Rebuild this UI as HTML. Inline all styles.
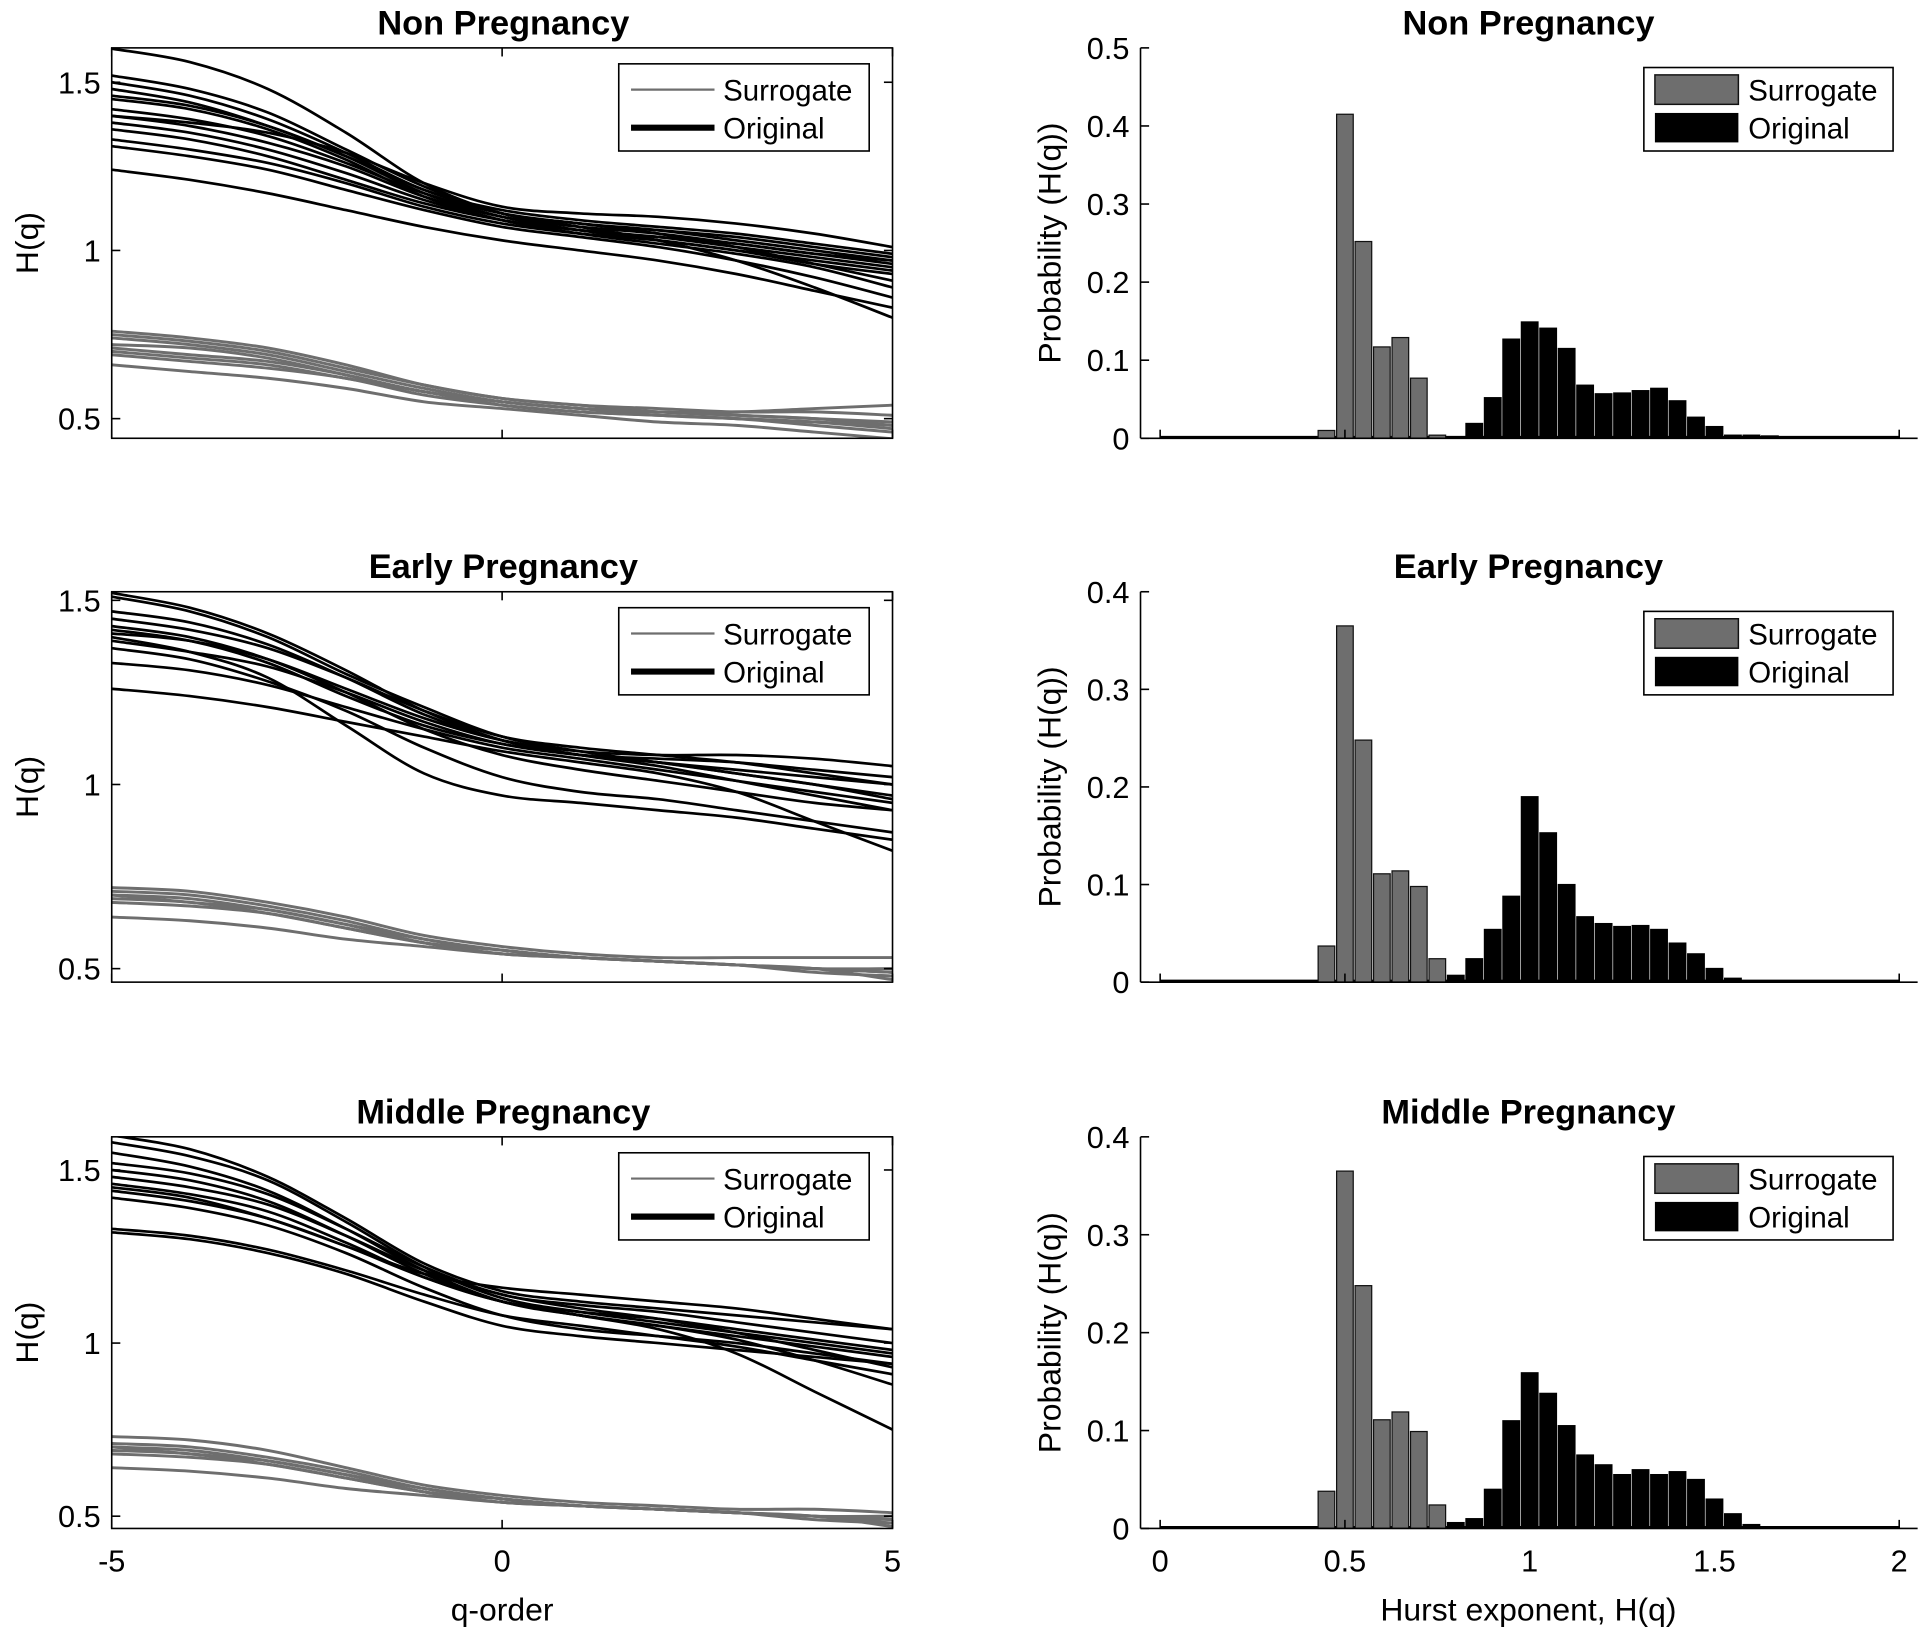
<!DOCTYPE html>
<html><head><meta charset="utf-8"><style>
html,body{margin:0;padding:0;background:#fff;}
svg{display:block;font-family:"Liberation Sans",sans-serif;}
</style></head><body>
<svg id="fig" width="1925" height="1636" viewBox="0 0 1568 1332.6" xmlns="http://www.w3.org/2000/svg"></svg>
<script>
const qTicks=[-5,0,5];
const qPoints=[-5,-4,-3,-2,-1,0,1,2,3,4,5];
const titles=["Non Pregnancy","Early Pregnancy","Middle Pregnancy"];
const orig1=[
[1.60,1.56,1.48,1.35,1.20,1.11,1.07,1.03,0.97,0.89,0.80],
[1.52,1.48,1.41,1.30,1.19,1.11,1.08,1.05,1.01,0.96,0.91],
[1.50,1.46,1.39,1.29,1.18,1.12,1.09,1.07,1.05,1.02,0.99],
[1.48,1.44,1.37,1.28,1.18,1.11,1.08,1.06,1.03,1.00,0.97],
[1.46,1.43,1.37,1.28,1.17,1.10,1.06,1.03,1.00,0.96,0.93],
[1.42,1.39,1.34,1.26,1.17,1.11,1.08,1.06,1.04,1.01,0.98],
[1.40,1.37,1.32,1.25,1.16,1.10,1.07,1.05,1.02,0.99,0.96],
[1.38,1.35,1.30,1.23,1.15,1.09,1.06,1.04,1.01,0.98,0.95],
[1.36,1.33,1.28,1.21,1.14,1.09,1.06,1.04,1.02,0.99,0.97],
[1.33,1.30,1.26,1.20,1.13,1.08,1.05,1.03,1.00,0.97,0.94],
[1.31,1.28,1.24,1.18,1.12,1.07,1.04,1.01,0.97,0.92,0.86],
[1.24,1.21,1.17,1.12,1.07,1.03,1.00,0.97,0.93,0.88,0.83],
[1.40,1.38,1.35,1.29,1.20,1.13,1.11,1.10,1.08,1.05,1.01],
[1.45,1.42,1.36,1.27,1.16,1.09,1.05,1.02,0.99,0.95,0.89]];
const surr1=[
[0.76,0.74,0.71,0.66,0.60,0.56,0.54,0.53,0.52,0.52,0.51],
[0.75,0.73,0.70,0.65,0.60,0.56,0.54,0.52,0.51,0.50,0.49],
[0.74,0.72,0.69,0.64,0.59,0.55,0.53,0.52,0.51,0.50,0.48],
[0.72,0.71,0.68,0.63,0.58,0.55,0.53,0.52,0.52,0.53,0.54],
[0.71,0.69,0.67,0.63,0.58,0.55,0.53,0.51,0.50,0.49,0.47],
[0.70,0.68,0.66,0.62,0.58,0.54,0.52,0.51,0.50,0.48,0.46],
[0.69,0.67,0.65,0.62,0.57,0.54,0.52,0.51,0.50,0.49,0.48],
[0.66,0.64,0.62,0.59,0.55,0.53,0.51,0.49,0.48,0.46,0.44]];
const orig2=[
[1.52,1.48,1.41,1.31,1.20,1.12,1.08,1.05,1.01,0.97,0.93],
[1.51,1.47,1.40,1.30,1.21,1.13,1.09,1.06,1.03,1.00,0.96],
[1.47,1.44,1.38,1.29,1.19,1.12,1.08,1.06,1.03,1.00,0.97],
[1.45,1.42,1.37,1.29,1.20,1.13,1.10,1.08,1.06,1.03,1.00],
[1.43,1.40,1.34,1.25,1.15,1.08,1.04,1.01,0.98,0.95,0.93],
[1.41,1.39,1.34,1.26,1.18,1.12,1.09,1.08,1.08,1.07,1.05],
[1.39,1.36,1.32,1.25,1.17,1.11,1.08,1.06,1.04,1.02,1.00],
[1.37,1.34,1.28,1.20,1.10,1.02,0.98,0.96,0.93,0.90,0.87],
[1.40,1.36,1.29,1.16,1.03,0.97,0.95,0.93,0.91,0.88,0.85],
[1.33,1.31,1.27,1.21,1.15,1.10,1.07,1.04,1.01,0.98,0.95],
[1.26,1.24,1.21,1.17,1.13,1.09,1.06,1.03,0.98,0.90,0.82],
[1.42,1.39,1.33,1.24,1.16,1.11,1.08,1.07,1.06,1.04,1.02]];
const surr2=[
[0.72,0.71,0.68,0.64,0.59,0.56,0.54,0.53,0.53,0.53,0.53],
[0.71,0.70,0.67,0.63,0.58,0.55,0.53,0.52,0.51,0.50,0.49],
[0.70,0.69,0.66,0.62,0.58,0.55,0.53,0.52,0.51,0.50,0.49],
[0.70,0.68,0.66,0.62,0.57,0.54,0.53,0.52,0.51,0.49,0.48],
[0.69,0.68,0.65,0.61,0.57,0.54,0.53,0.52,0.51,0.50,0.50],
[0.68,0.67,0.65,0.61,0.57,0.55,0.53,0.52,0.51,0.50,0.47],
[0.64,0.63,0.61,0.58,0.56,0.54,0.53,0.52,0.51,0.50,0.49]];
const orig3=[
[1.60,1.56,1.48,1.36,1.23,1.15,1.12,1.10,1.08,1.06,1.04],
[1.58,1.54,1.47,1.35,1.22,1.13,1.09,1.06,1.03,1.00,0.97],
[1.55,1.51,1.44,1.33,1.21,1.12,1.08,1.05,1.02,0.99,0.96],
[1.52,1.49,1.43,1.33,1.22,1.14,1.11,1.09,1.06,1.03,1.00],
[1.50,1.47,1.41,1.31,1.20,1.12,1.08,1.04,0.97,0.86,0.75],
[1.48,1.45,1.40,1.31,1.21,1.14,1.10,1.07,1.03,0.98,0.93],
[1.46,1.43,1.38,1.29,1.19,1.12,1.09,1.07,1.04,1.01,0.98],
[1.44,1.41,1.36,1.28,1.19,1.12,1.08,1.05,1.01,0.95,0.88],
[1.42,1.39,1.34,1.26,1.16,1.08,1.04,1.02,1.00,0.97,0.94],
[1.33,1.31,1.27,1.21,1.14,1.08,1.05,1.02,0.99,0.95,0.91],
[1.32,1.30,1.26,1.20,1.12,1.05,1.02,1.00,0.98,0.96,0.94],
[1.45,1.42,1.36,1.28,1.20,1.16,1.14,1.12,1.10,1.07,1.04]];
const surr3=[
[0.73,0.72,0.69,0.64,0.59,0.56,0.54,0.53,0.52,0.52,0.51],
[0.71,0.70,0.67,0.63,0.58,0.55,0.53,0.52,0.51,0.50,0.49],
[0.70,0.69,0.66,0.62,0.58,0.55,0.53,0.52,0.51,0.50,0.48],
[0.70,0.68,0.66,0.62,0.57,0.54,0.53,0.52,0.51,0.49,0.48],
[0.69,0.68,0.65,0.61,0.57,0.54,0.53,0.52,0.51,0.50,0.50],
[0.68,0.67,0.65,0.61,0.57,0.55,0.53,0.52,0.51,0.50,0.47],
[0.64,0.63,0.61,0.58,0.56,0.54,0.53,0.52,0.51,0.50,0.49]];
const hBins=[0.45,0.5,0.55,0.6,0.65,0.7,0.75,0.8,0.85,0.9,0.95,1.0,1.05,1.1,1.15,1.2,1.25,1.3,1.35,1.4,1.45,1.5,1.55,1.6,1.65];
const surrProb1=[0.010,0.415,0.252,0.117,0.129,0.077,0.004];
const origProb1=[0.002,0.019,0.052,0.127,0.149,0.141,0.115,0.068,0.057,0.058,0.061,0.064,0.048,0.027,0.015,0.004,0.004,0.003];
const surrProb2=[0.037,0.365,0.248,0.111,0.114,0.098,0.024];
const origProb2=[0.007,0.024,0.054,0.088,0.190,0.153,0.100,0.067,0.060,0.057,0.058,0.054,0.040,0.029,0.014,0.004];
const surrProb3=[0.038,0.365,0.248,0.111,0.119,0.099,0.024];
const origProb3=[0.006,0.010,0.040,0.110,0.159,0.138,0.105,0.075,0.065,0.055,0.060,0.055,0.058,0.050,0.030,0.015,0.004];
const hTicks=[0,0.5,1,1.5,2];
const yTicksL=[0.5,1,1.5];
const probTicks1=[0,0.1,0.2,0.3,0.4,0.5];
const probTicks23=[0,0.1,0.2,0.3,0.4];

const NS="http://www.w3.org/2000/svg";
const svg=document.getElementById('fig');
function el(tag,attrs,parent,text){const e=document.createElementNS(NS,tag);for(const k in attrs)e.setAttribute(k,attrs[k]);if(text!==undefined)e.textContent=text;(parent||svg).appendChild(e);return e;}
function fmt(v){return String(v);}
function smoothPath(pts){let d='M'+pts[0][0].toFixed(2)+','+pts[0][1].toFixed(2);
 for(let i=0;i<pts.length-1;i++){const p0=pts[Math.max(0,i-1)],p1=pts[i],p2=pts[i+1],p3=pts[Math.min(pts.length-1,i+2)];
 const c1=[p1[0]+(p2[0]-p0[0])/6,p1[1]+(p2[1]-p0[1])/6],c2=[p2[0]-(p3[0]-p1[0])/6,p2[1]-(p3[1]-p1[1])/6];
 d+=' C'+c1[0].toFixed(2)+','+c1[1].toFixed(2)+' '+c2[0].toFixed(2)+','+c2[1].toFixed(2)+' '+p2[0].toFixed(2)+','+p2[1].toFixed(2);}return d;}

const leftPanels=[
 {top:39,bot:357,v1:1.5,y1:67,v0:0.5,y0:341,orig:orig1,surr:surr1},
 {top:482,bot:800,v1:1.5,y1:489,v0:0.5,y0:789,orig:orig2,surr:surr2},
 {top:926,bot:1245,v1:1.5,y1:953,v0:0.5,y0:1235,orig:orig3,surr:surr3}];
const rightPanels=[
 {top:39,bot:357,vmax:0.5,ticks:probTicks1,surr:surrProb1,orig:origProb1},
 {top:482,bot:800,vmax:0.4,ticks:probTicks23,surr:surrProb2,orig:origProb2},
 {top:926,bot:1245,vmax:0.4,ticks:probTicks23,surr:surrProb3,orig:origProb3}];
const LX0=91,LX1=727;
const xq=q=>LX0+(q+5)/10*(LX1-LX0);
const RX0=929,RX1=1562;
const xh=h=>945+h/2*(1547-945);

leftPanels.forEach((P,pi)=>{
 const g=el('g',{}, svg);
 
 
 const yv=v=>P.y0+(v-P.v0)/(P.v1-P.v0)*(P.y1-P.y0);
 const cp=el('clipPath',{id:'clipL'+pi},g);el('rect',{x:LX0,y:P.top,width:LX1-LX0,height:P.bot-P.top},cp);
 const lines=el('g',{'clip-path':'url(#clipL'+pi+')'},g);
 P.surr.forEach((s,i)=>{const p=el('path',{d:smoothPath(s.map((v,j)=>[xq(qPoints[j]),yv(v)])),fill:'none',stroke:'#6e6e6e','stroke-width':2.4},lines);
  });
 P.orig.forEach((s,i)=>{const p=el('path',{d:smoothPath(s.map((v,j)=>[xq(qPoints[j]),yv(v)])),fill:'none',stroke:'#000','stroke-width':2.2},lines);
  });
 el('rect',{x:LX0,y:P.top,width:LX1-LX0,height:P.bot-P.top,fill:'none',stroke:'#000','stroke-width':1.3},g);
 yTicksL.forEach(t=>{const y=yv(t);el('line',{x1:LX0,x2:LX0+7,y1:y,y2:y,stroke:'#000','stroke-width':1.3},g);el('line',{x1:LX1,x2:LX1-7,y1:y,y2:y,stroke:'#000','stroke-width':1.3},g);
  const tx=el('text',{x:LX0-9,y:y+9,'text-anchor':'end','font-size':25},g,fmt(t));});
 qTicks.forEach(t=>{const x=xq(t);el('line',{x1:x,x2:x,y1:P.bot,y2:P.bot-7,stroke:'#000','stroke-width':1.3},g);el('line',{x1:x,x2:x,y1:P.top,y2:P.top+7,stroke:'#000','stroke-width':1.3},g);
  if(pi===2){const tx=el('text',{x:x,y:P.bot+35,'text-anchor':'middle','font-size':25},g,fmt(t));}});
 const ti=el('text',{x:410,y:P.top-11,'text-anchor':'middle','font-size':28,'font-weight':'bold'},g,titles[pi]);
 const my=(P.top+P.bot)/2;const yl=el('text',{x:0,y:0,transform:'translate(31,'+my+') rotate(-90)','text-anchor':'middle','font-size':26},g,'H(q)');
 const lg=el('g',{},g);
 const ly=P.top+13;
 el('rect',{x:504,y:ly,width:204,height:71,fill:'#fff',stroke:'#000','stroke-width':1.3},lg);
 el('line',{x1:514,x2:582,y1:ly+21,y2:ly+21,stroke:'#6e6e6e','stroke-width':1.8},lg);
 el('line',{x1:514,x2:582,y1:ly+52,y2:ly+52,stroke:'#000','stroke-width':5},lg);
 el('text',{x:589,y:ly+30,'font-size':24},lg,'Surrogate');
 el('text',{x:589,y:ly+61,'font-size':24},lg,'Original');
});

rightPanels.forEach((P,pi)=>{
 const g=el('g',{},svg);
 
 
 const yp=v=>P.bot-v/P.vmax*(P.bot-P.top);
 const bw=0.045/2*(1547-945);
 el('line',{x1:xh(0),x2:xh(2),y1:P.bot-1,y2:P.bot-1,stroke:'#000','stroke-width':2},g);
 P.surr.forEach((v,i)=>{const x=xh(hBins[i]);const r=el('rect',{x:x-bw/2,y:yp(v),width:bw,height:P.bot-yp(v),fill:'#6e6e6e',stroke:'#111','stroke-width':1},g);
  });
 P.orig.forEach((v,i)=>{const x=xh(hBins[i+P.surr.length]);const r=el('rect',{x:x-bw/2,y:yp(v),width:bw,height:P.bot-yp(v),fill:'#000',stroke:'#000','stroke-width':1},g);
  });
 el('line',{x1:RX0,x2:RX0,y1:P.top,y2:P.bot,stroke:'#000','stroke-width':1.3},g);
 el('line',{x1:RX0,x2:RX1,y1:P.bot,y2:P.bot,stroke:'#000','stroke-width':1.3},g);
 P.ticks.forEach(t=>{const y=yp(t);el('line',{x1:RX0,x2:RX0+7,y1:y,y2:y,stroke:'#000','stroke-width':1.3},g);
  const tx=el('text',{x:RX0-9,y:y+9,'text-anchor':'end','font-size':25},g,fmt(t));});
 hTicks.forEach(t=>{const x=xh(t);el('line',{x1:x,x2:x,y1:P.bot,y2:P.bot-7,stroke:'#000','stroke-width':1.3},g);
  if(pi===2){const tx=el('text',{x:x,y:P.bot+35,'text-anchor':'middle','font-size':25},g,fmt(t));}});
 const ti=el('text',{x:1245,y:P.top-11,'text-anchor':'middle','font-size':28,'font-weight':'bold'},g,titles[pi]);
 const my=(P.top+P.bot)/2;const yl=el('text',{x:0,y:0,transform:'translate(864,'+my+') rotate(-90)','text-anchor':'middle','font-size':26},g,'Probability (H(q))');
 const lg=el('g',{},g);
 const ly=P.top+16;
 el('rect',{x:1339,y:ly,width:203,height:68,fill:'#fff',stroke:'#000','stroke-width':1.3},lg);
 el('rect',{x:1348,y:ly+6,width:68,height:24,fill:'#6e6e6e',stroke:'#111','stroke-width':1.2},lg);
 el('rect',{x:1348,y:ly+37,width:68,height:24,fill:'#000'},lg);
 el('text',{x:1424,y:ly+27,'font-size':24},lg,'Surrogate');
 el('text',{x:1424,y:ly+58,'font-size':24},lg,'Original');
});
const xl1=el('text',{x:409,y:1320,'text-anchor':'middle','font-size':26},svg,'q-order');


const xl2=el('text',{x:1245,y:1320,'text-anchor':'middle','font-size':26},svg,'Hurst exponent, H(q)');


</script>
</body></html>
